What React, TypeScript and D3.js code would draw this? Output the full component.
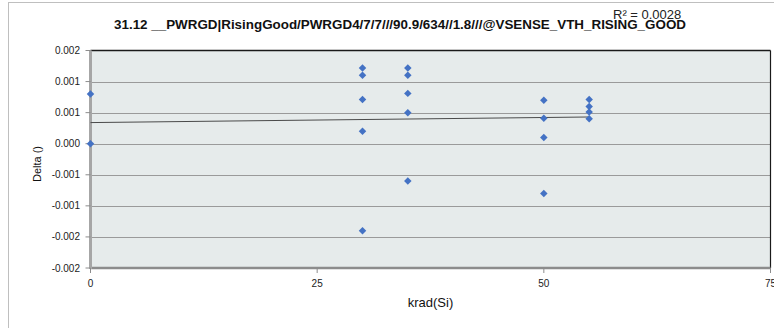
import { useEffect, useRef } from 'react'
import * as d3 from 'd3'

// total dose (krad) per sample and the measured delta
const doses  = [0, 0, 30, 30, 30, 30, 30, 35, 35, 35, 35, 35, 50, 50, 50, 50, 55, 55, 55, 55]
const deltas = [0.0008, 0, 0.00122, 0.0011, 0.00071, 0.0002, -0.0014,
                0.00122, 0.0011, 0.00081, 0.0005, -0.0006,
                0.0007, 0.00041, 0.0001, -0.0008,
                0.00071, 0.0006, 0.00051, 0.0004]

// linear trendline end points
const trendX = [0, 55]
const trendY = [0.00034, 0.00043]

const xTicks      = [0, 25, 50, 75]
const yTicks      = [-0.002, -0.0015, -0.001, -0.0005, 0, 0.0005, 0.001, 0.0015]
const yTickLabels = ['-0.002', '-0.002', '-0.001', '-0.001', '0.000', '0.001', '0.001', '0.002']

const TITLE = '31.12 __PWRGD|RisingGood/PWRGD4/7/7///90.9/634//1.8///@VSENSE_VTH_RISING_GOOD'
const R2    = 'R² = 0.0028'

const FONT = '"Liberation Sans", Arial, sans-serif'

export default function App() {
  const svgRef = useRef<SVGSVGElement>(null)

  useEffect(() => {
    if (!svgRef.current) return
    const svg = d3.select(svgRef.current)
    svg.selectAll('*').remove()

    const W = 774, H = 328
    const left = 90.5, right = 770.5, top = 50.5, bottom = 268

    const x = d3.scaleLinear().domain([0, 75]).range([left, right])
    const y = d3.scaleLinear().domain([-0.002, 0.0015]).range([bottom, top])

    svg.attr('width', W).attr('height', H)

    // chart area border
    svg.append('rect')
      .attr('x', 8.5).attr('y', 2.5).attr('width', 820).attr('height', 400)
      .attr('fill', '#fff').attr('stroke', '#bfbfbf')

    // plot area
    svg.append('rect')
      .attr('x', left).attr('y', top).attr('width', right - left).attr('height', bottom - top)
      .attr('fill', '#e6ebeb')

    // gridlines
    svg.append('g').selectAll('line')
      .data(yTicks.slice(1, -1))
      .join('line')
      .attr('x1', left).attr('x2', right)
      .attr('y1', d => Math.round(y(d)) + 0.5).attr('y2', d => Math.round(y(d)) + 0.5)
      .attr('stroke', '#9a9a9a').attr('stroke-width', 1)

    // plot border: top/right dark, left/bottom gray axes
    svg.append('line').attr('x1', left).attr('x2', right).attr('y1', top).attr('y2', top)
      .attr('stroke', '#1a1a1a').attr('stroke-width', 1.5)
    svg.append('line').attr('x1', right).attr('x2', right).attr('y1', top).attr('y2', bottom)
      .attr('stroke', '#1a1a1a').attr('stroke-width', 1.2)
    svg.append('line').attr('x1', left).attr('x2', right).attr('y1', bottom).attr('y2', bottom)
      .attr('stroke', '#8c8c8c').attr('stroke-width', 2.5)
    svg.append('line').attr('x1', left).attr('x2', left).attr('y1', top).attr('y2', bottom + 1)
      .attr('stroke', '#a6a6a6').attr('stroke-width', 3)

    // y ticks + labels
    const yAxis = svg.append('g')
    yAxis.selectAll('line')
      .data(yTicks)
      .join('line')
      .attr('x1', left - 5).attr('x2', left)
      .attr('y1', d => y(d)).attr('y2', d => y(d))
      .attr('stroke', '#8c8c8c')
    yAxis.selectAll('text')
      .data(yTicks)
      .join('text')
      .attr('x', 80).attr('y', d => y(d) + 3.5)
      .attr('text-anchor', 'end').attr('font-size', 10).attr('font-family', FONT).attr('fill', '#222')
      .text((_, i) => yTickLabels[i])

    // x ticks + labels
    const xAxis = svg.append('g')
    xAxis.selectAll('line')
      .data(xTicks)
      .join('line')
      .attr('x1', d => x(d)).attr('x2', d => x(d))
      .attr('y1', bottom).attr('y2', bottom + 5)
      .attr('stroke', '#8c8c8c')
    xAxis.selectAll('text')
      .data(xTicks)
      .join('text')
      .attr('x', d => x(d)).attr('y', 287)
      .attr('text-anchor', 'middle').attr('font-size', 10).attr('font-family', FONT).attr('fill', '#222')
      .text(d => String(d))

    // axis titles
    svg.append('text')
      .attr('x', (left + right) / 2).attr('y', 307)
      .attr('text-anchor', 'middle').attr('font-size', 13).attr('font-family', FONT).attr('fill', '#111')
      .text('krad(Si)')
    svg.append('text')
      .attr('transform', 'translate(41,164) rotate(-90)')
      .attr('text-anchor', 'middle').attr('font-size', 11).attr('font-family', FONT).attr('fill', '#111')
      .text('Delta ()')

    // trendline
    const line = d3.line<number>()
      .x(d => x(d))
      .y((_, i) => y(trendY[i]))
    svg.append('path')
      .attr('d', line(trendX))
      .attr('fill', 'none').attr('stroke', '#4a4a4a').attr('stroke-width', 1)

    // points
    const diamond = d3.symbol(d3.symbolSquare, 28)
    svg.append('g').selectAll('path')
      .data(doses)
      .join('path')
      .attr('d', diamond)
      .attr('transform', (d, i) => `translate(${x(d)},${y(deltas[i])}) rotate(45)`)
      .attr('fill', '#4472c4')

    // title + R²
    svg.append('text')
      .attr('x', 400).attr('y', 29)
      .attr('text-anchor', 'middle').attr('font-size', 13.4).attr('font-weight', 'bold')
      .attr('font-family', FONT).attr('fill', '#111')
      .text(TITLE)
    svg.append('text')
      .attr('x', 613).attr('y', 19)
      .attr('font-size', 13).attr('font-family', FONT).attr('fill', '#222')
      .text(R2)
  }, [])

  return (
    <svg ref={svgRef} style={{ position: 'absolute', left: 0, top: 0, display: 'block' }} />
  )
}
